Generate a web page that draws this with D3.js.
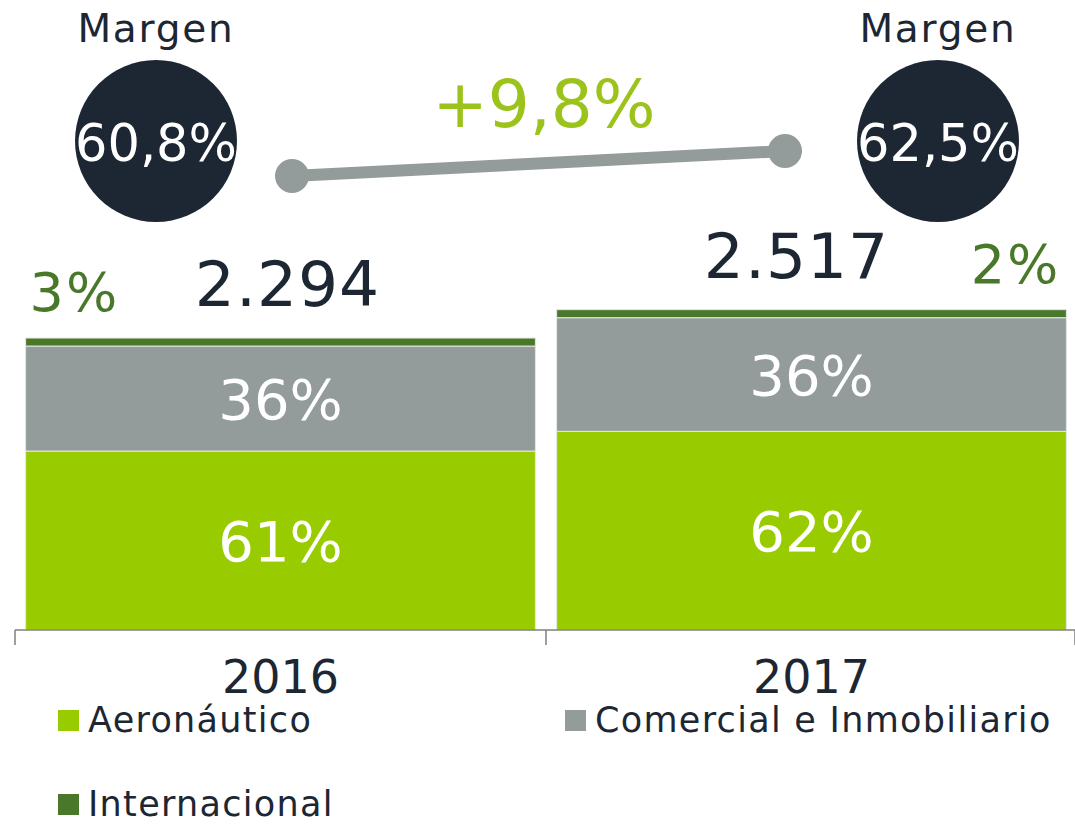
<!DOCTYPE html>
<html>
<head>
<meta charset="utf-8">
<script src="https://cdn.jsdelivr.net/npm/d3@7/dist/d3.min.js"></script>
<style>
  body { margin: 0; background: #fff; }
  svg { display: block; font-family: Verdana, "DejaVu Sans", sans-serif; }
</style>
</head>
<body>
<svg id="chart" width="1075" height="829"></svg>
<script>
// data
var years = ["2016", "2017"];
var totals = [2294, 2517];
var totalLabels = ["2.294", "2.517"];
var aeronautico = [1406, 1561];
var comercial = [825, 893];
var internacional = [63, 63];
var aeroLabels = ["61%", "62%"];
var comercialLabels = ["36%", "36%"];
var interLabels = ["3%", "2%"];
var margins = ["60,8%", "62,5%"];
var growthLabel = "+9,8%";
var seriesNames = ["Aeronáutico", "Comercial e Inmobiliario", "Internacional"];

// colours
var cAero = "#99cc00",
    cCom = "#939b9b",
    cInt = "#4a782a",
    cDark = "#1c2733",
    cGrowth = "#9bc31c";

var svg = d3.select("#chart");

var x = d3.scaleBand()
    .domain(years)
    .range([15, 1077])
    .paddingInner(0.04)
    .paddingOuter(0.02);

var y = d3.scaleLinear()
    .domain([0, 4950])
    .range([630, 0]);

var rows = years.map(function (yr, i) {
    return { year: yr, aero: aeronautico[i], com: comercial[i], inter: internacional[i] };
});
var stack = d3.stack().keys(["aero", "com", "inter"]);
var layers = stack(rows);
var colors = { aero: cAero, com: cCom, inter: cInt };

// stacked bars
svg.append("g").selectAll("g")
    .data(layers)
    .enter()
    .append("g")
    .attr("fill", function (d) { return colors[d.key]; })
    .selectAll("rect")
    .data(function (d) { return d; })
    .enter()
    .append("rect")
    .attr("x", function (d) { return x(d.data.year); })
    .attr("width", x.bandwidth())
    .attr("y", function (d) { return y(d[1]); })
    .attr("height", function (d) { return y(d[0]) - y(d[1]); })
    .attr("stroke", "#e4e8e4")
    .attr("stroke-width", 1);

// axis line with ticks at category edges
var axisY = 630;
var edges = [x.range()[0], (x("2016") + x.bandwidth() + x("2017")) / 2, 1075];
svg.append("line")
    .attr("x1", edges[0]).attr("x2", 1075)
    .attr("y1", axisY).attr("y2", axisY)
    .attr("stroke", "#7f7f7f").attr("stroke-width", 1.5);
svg.selectAll("line.tick")
    .data(edges)
    .enter()
    .append("line")
    .attr("class", "tick")
    .attr("x1", function (d) { return d; })
    .attr("x2", function (d) { return d; })
    .attr("y1", axisY).attr("y2", axisY + 15)
    .attr("stroke", "#7f7f7f").attr("stroke-width", 1.5);

// year labels
var xAxis = svg.append("g")
    .attr("transform", "translate(0," + axisY + ")")
    .call(d3.axisBottom(x).tickSize(0).tickPadding(30));
xAxis.select(".domain").remove();
xAxis.selectAll("text")
    .attr("font-size", 46)
    .attr("font-family", 'Verdana, "DejaVu Sans", sans-serif')
    .attr("fill", cDark);

// segment labels
function midY(a, b) { return (y(a) + y(b)) / 2; }
var labelG = svg.append("g").attr("fill", "#fff").attr("font-size", 56).attr("text-anchor", "middle");
labelG.selectAll("text.aero")
    .data(layers[0])
    .enter()
    .append("text")
    .attr("x", function (d) { return x(d.data.year) + x.bandwidth() / 2; })
    .attr("y", function (d) { return midY(d[0], d[1]); })
    .attr("dy", "0.36em")
    .text(function (d, i) { return aeroLabels[i]; });
labelG.selectAll("text.com")
    .data(layers[1])
    .enter()
    .append("text")
    .attr("x", function (d) { return x(d.data.year) + x.bandwidth() / 2; })
    .attr("y", function (d) { return midY(d[0], d[1]); })
    .attr("dy", "0.36em")
    .text(function (d, i) { return comercialLabels[i]; });

// internacional labels above bars
svg.append("g").selectAll("text")
    .data(layers[2])
    .enter()
    .append("text")
    .attr("x", function (d, i) { return i == 0 ? x(d.data.year) + 4 : x(d.data.year) + x.bandwidth() - 6; })
    .attr("y", function (d) { return y(d[1]) - 27; })
    .attr("text-anchor", function (d, i) { return i == 0 ? "start" : "end"; })
    .attr("font-size", 54)
    .attr("letter-spacing", 2)
    .attr("fill", cInt)
    .text(function (d, i) { return interLabels[i]; });

// totals
svg.append("g").selectAll("text")
    .data(totals)
    .enter()
    .append("text")
    .attr("x", function (d, i) { return x(years[i]) + x.bandwidth() / 2 + (i == 0 ? 7 : -15); })
    .attr("y", function (d) { return y(d) - 32; })
    .attr("text-anchor", "middle")
    .attr("font-size", 63)
    .attr("letter-spacing", 1)
    .attr("fill", cDark)
    .text(function (d, i) { return totalLabels[i]; });

// margin circles
var circleX = [156, 938];
var circleY = 141;
var mg = svg.append("g");
mg.selectAll("circle")
    .data(margins)
    .enter()
    .append("circle")
    .attr("cx", function (d, i) { return circleX[i]; })
    .attr("cy", circleY)
    .attr("r", 81)
    .attr("fill", cDark);
mg.selectAll("text.val")
    .data(margins)
    .enter()
    .append("text")
    .attr("class", "val")
    .attr("x", function (d, i) { return circleX[i]; })
    .attr("y", circleY + 2)
    .attr("dy", "0.36em")
    .attr("text-anchor", "middle")
    .attr("font-size", 51)
    .attr("fill", "#fff")
    .text(function (d) { return d; });
mg.selectAll("text.lbl")
    .data(margins)
    .enter()
    .append("text")
    .attr("class", "lbl")
    .attr("x", function (d, i) { return circleX[i]; })
    .attr("y", 42)
    .attr("text-anchor", "middle")
    .attr("font-size", 39)
    .attr("letter-spacing", 1.8)
    .attr("fill", cDark)
    .text("Margen");

// growth connector
var ends = [[292, 176], [785, 151]];
svg.append("line")
    .attr("x1", ends[0][0]).attr("y1", ends[0][1])
    .attr("x2", ends[1][0]).attr("y2", ends[1][1])
    .attr("stroke", cCom).attr("stroke-width", 12);
svg.selectAll("circle.end")
    .data(ends)
    .enter()
    .append("circle")
    .attr("class", "end")
    .attr("cx", function (d) { return d[0]; })
    .attr("cy", function (d) { return d[1]; })
    .attr("r", 17)
    .attr("fill", cCom);
svg.append("text")
    .attr("x", 544)
    .attr("y", 127)
    .attr("text-anchor", "middle")
    .attr("font-size", 66)
    .attr("fill", cGrowth)
    .text(growthLabel);

// legend
var legendPos = [[58, 710], [565, 710], [58, 794]];
var legendColors = [cAero, cCom, cInt];
var lg = svg.append("g").selectAll("g")
    .data(seriesNames)
    .enter()
    .append("g")
    .attr("transform", function (d, i) { return "translate(" + legendPos[i][0] + "," + legendPos[i][1] + ")"; });
lg.append("rect")
    .attr("width", 21).attr("height", 21)
    .attr("fill", function (d, i) { return legendColors[i]; });
lg.append("text")
    .attr("x", 30)
    .attr("y", 22)
    .attr("font-size", 35)
    .attr("letter-spacing", 1.3)
    .attr("fill", cDark)
    .text(function (d) { return d; });
</script>
</body>
</html>
